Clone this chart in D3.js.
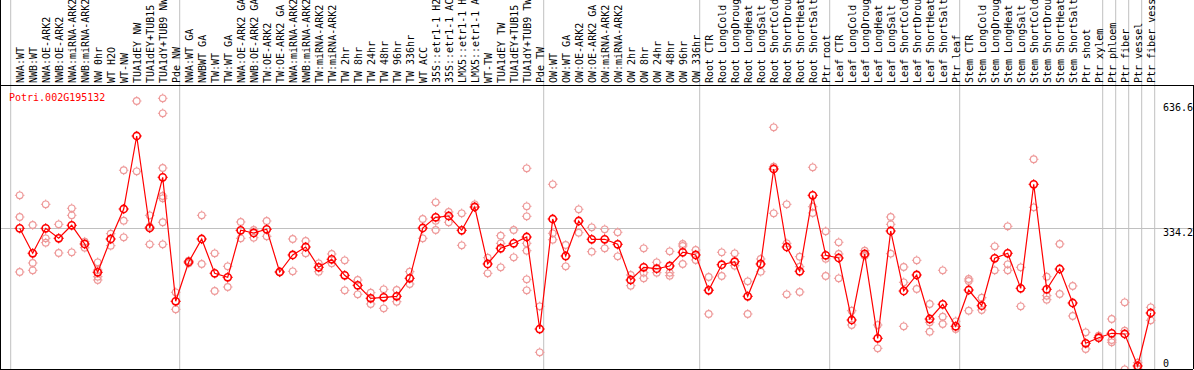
<!DOCTYPE html>
<html lang="en">
<head>
<meta charset="utf-8">
<title>Potri.002G195132</title>
<script src="https://cdn.jsdelivr.net/npm/d3@7"></script>
<style>
  body { margin: 0; background: #fff; }
  svg text { font-family: "DejaVu Sans Mono", monospace; font-size: 10px; }
</style>
</head>
<body>
<svg id="chart" width="1194" height="370"></svg>
<script>
var gene = 'Potri.002G195132';

var samples = ['NWA:WT', 'NWB:WT', 'NWA:OE-ARK2', 'NWB:OE-ARK2', 'NWA:miRNA-ARK2', 'NWB:miRNA-ARK2',
  'NW 0hr', 'WT H2O', 'WT-NW', 'TUA1dEY NW', 'TUA1dEY+TUB15', 'TUA1dY+TUB9 NW', 'Pde NW',
  'NWA:WT GA', 'NWBWT GA', 'TW:WT', 'TW:WT GA', 'NWA:OE-ARK2 GA', 'NWB:OE-ARK2 GA', 'TW:OE-ARK2',
  'TW:OE-ARK2 GA', 'NWA:miRNA-ARK2', 'NWB:miRNA-ARK2', 'TW:miRNA-ARK2', 'TW:miRNA-ARK2',
  'TW 2hr', 'TW 8hr', 'TW 24hr', 'TW 48hr', 'TW 96hr', 'TW 336hr', 'WT ACC',
  '35S::etr1-1 H2', '35S::etr1-1 AC', 'LMX5::etr1-1 H', 'LMX5::etr1-1 A', 'WT-TW', 'TUA1dEY TW',
  'TUA1dEY+TUB15', 'TUA1dY+TUB9 TW', 'Pde TW',
  'OW:WT', 'OW:WT GA', 'OW:OE-ARK2', 'OW:OE-ARK2 GA', 'OW:miRNA-ARK2', 'OW:miRNA-ARK2',
  'OW 2hr', 'OW 8hr', 'OW 24hr', 'OW 48hr', 'OW 96hr', 'OW 336hr',
  'Root CTR', 'Root LongCold', 'Root LongDroug', 'Root LongHeat', 'Root LongSalt', 'Root ShortCold',
  'Root ShortDrou', 'Root ShortHeat', 'Root ShortSalt', 'Ptr root',
  'Leaf CTR', 'Leaf LongCold', 'Leaf LongDroug', 'Leaf LongHeat', 'Leaf LongSalt', 'Leaf ShortCold',
  'Leaf ShortDrou', 'Leaf ShortHeat', 'Leaf ShortSalt', 'Ptr leaf',
  'Stem CTR', 'Stem LongCold', 'Stem LongDroug', 'Stem LongHeat', 'Stem LongSalt', 'Stem ShortCold',
  'Stem ShortDrou', 'Stem ShortHeat', 'Stem ShortSalt', 'Ptr shoot', 'Ptr xylem',
  'Ptr phloem', 'Ptr fiber', 'Ptr vessel', 'Ptr fiber vess'];

// index of first sample in each group (88 = end)
var groupStarts = [0, 13, 41, 53, 63, 73, 84, 85, 86, 87, 88];

var means = [333.5, 273.3, 333.5, 309.4, 340.7, 295.7, 227.5, 307.7, 380, 555.9, 334.2, 456.4, 157.6,
  252.3, 307.7, 225.1, 215.4, 328.7, 322.2, 331.1, 228.2, 269.2, 288.4, 239.5, 258.8,
  220.2, 196.1, 164.8, 167.2, 169.6, 213, 334.2, 360, 363.1, 328.7, 384.8, 247.5, 285.3,
  297.3, 312.5, 90.8,
  355.9, 266.7, 351.1, 307, 307, 294.9, 208.9, 239.5, 236.1, 242.7, 275.7, 269.2,
  184.1, 245.8, 253, 169.6, 247.5, 476.4, 288.4, 229.9, 413, 268.4,
  261.9, 112.5, 271.6, 68.4, 327, 182.4, 221, 114.9, 150.4, 97.3,
  184.8, 147, 261.2, 273.3, 188.9, 439.5, 186.5, 235.4, 153.5, 56.4, 69.9,
  80.5, 78.8, 1.7, 129.4];

var reps = [[413, 360.7, 228.2], [341.4, 249.9, 232.3], [391.3, 309.4, 298.8], [343.1, 274],
  [381.7, 364.8, 275.7], [301.2, 286.7], [251.6, 233, 216.9, 208.9], [320.5, 291.6],
  [473.3, 351.8, 311.8], [640.2, 470.8], [364.8, 337.3, 294.9],
  [646.7, 610.6, 478.8, 411.3, 405.8, 348, 294.9], [179.3, 138.3],
  [255.4, 249], [364.8, 247.5], [273.3, 182.4], [241.9, 192], [348.7, 309.4], [329.4, 310.8],
  [351.1, 314.2], [227.5, 229], [307.7, 229.9], [302.9, 273.3], [249.2, 228.9], [271.6, 249.2],
  [256.4, 184.1], [208.9, 174.5], [178.3, 151.1], [186.5, 140.7], [184.8, 156.6], [228.9, 199.3],
  [355.9, 309.4], [396.1, 351.8, 329.4], [372.8, 348], [369.6, 292.5], [391.3, 384.8],
  [262.7, 225.1], [315.7, 297.3, 239.5], [329.4, 263.6],
  [478.1, 386.5, 362.4, 297.3, 279.5, 210.6, 184.1], [145.5, 34.7],
  [439.5, 321.4, 306], [293.3, 241.9], [379.3, 322.9], [335.9, 277.1], [331.1, 285.3],
  [323.9, 266], [221, 195.2], [285.3, 226.5, 213], [251.6, 226.5], [278.1, 226.5, 219.3],
  [295.7, 290.8, 247.5], [281.2, 257.1],
  [216.1, 127, 184.8], [275.7, 218.6], [273.3, 243.4], [205.8, 127], [259.5, 228.9],
  [576.9, 481.9, 369.6], [391.3, 297.3, 174.5], [265.1, 241, 180], [480.5, 385.5, 370.4],
  [326.3, 260.2, 218.6],
  [299.8, 271.6, 213], [134.9, 100.5], [279.5, 267.5], [100.5, 44.3], [360.7, 343.1, 272.3],
  [240.2, 203.4, 97.3], [256.4, 187.2], [151.1, 107, 84.3], [232.3, 120.5, 102.9], [109.4, 90.8],
  [211.3, 206.5, 134.9], [166.3, 136.6], [290.1, 232.3], [338.3, 246.7, 232.3], [239.5, 145.5],
  [499.8, 384.1], [216.9, 171.1, 161.4], [295.7, 175.2], [194.5, 122.2], [82.9, 42.7],
  [74.7, 68.4], [114.9, 64.3, 58.8], [155.2, 86.7, -6.3], [9.6, -6], [143.1, 111.8]];

var yTicks = [636.6, 334.2, 0];
var gridValues = [334.2];

var W = 1194, H = 370;
var plotTop = 85, plotBottom = 369, plotRight = 1193;

var svg = d3.select('#chart');

var x = d3.scaleBand()
    .domain(d3.range(samples.length))
    .range([10.7, 10.7 + 13 * samples.length])
    .paddingInner(0);
var px = function(i) { return x(i) + 9; };

var y = d3.scaleLinear().domain([0, 636.6]).range([366.7, 102.5]);

// group separators
svg.selectAll('line.sep')
    .data(groupStarts)
    .enter().append('line')
    .attr('class', 'sep')
    .attr('x1', function(d) { return d < samples.length ? x(d) : x.range()[1]; })
    .attr('x2', function(d) { return d < samples.length ? x(d) : x.range()[1]; })
    .attr('y1', 0).attr('y2', plotBottom)
    .attr('stroke', '#c0c0c0').attr('stroke-width', 1);

// horizontal grid
svg.selectAll('line.hgrid')
    .data(gridValues)
    .enter().append('line')
    .attr('x1', 0).attr('x2', plotRight)
    .attr('y1', function(d) { return Math.round(y(d)) + 0.5; })
    .attr('y2', function(d) { return Math.round(y(d)) + 0.5; })
    .attr('stroke', '#c0c0c0');

// frame
svg.append('line').attr('x1', 0).attr('x2', W).attr('y1', plotTop + 0.5).attr('y2', plotTop + 0.5).attr('stroke', '#000');
svg.append('line').attr('x1', 0).attr('x2', plotRight).attr('y1', plotBottom + 0.5).attr('y2', plotBottom + 0.5).attr('stroke', '#000');
svg.append('line').attr('x1', 0.5).attr('x2', 0.5).attr('y1', 0).attr('y2', plotBottom).attr('stroke', '#000');
svg.append('line').attr('x1', plotRight + 0.5).attr('x2', plotRight + 0.5).attr('y1', plotTop).attr('y2', plotBottom).attr('stroke', '#000');

// sample labels
svg.append('g').selectAll('text')
    .data(samples)
    .enter().append('text')
    .attr('transform', function(d, i) { return 'translate(' + (px(i) + 4) + ',83) rotate(-90)'; })
    .attr('fill', '#000')
    .text(function(d) { return d; });

// y labels
svg.append('g').selectAll('text')
    .data(yTicks)
    .enter().append('text')
    .attr('x', 1163)
    .attr('y', function(d) { return d == 0 ? y(d) : y(d) + 8; })
    .attr('fill', '#000')
    .text(function(d) { return d; });

// gene name
svg.append('text').attr('x', 9).attr('y', 101).attr('fill', '#ff0000').text(gene);

var clip = svg.append('clipPath').attr('id', 'plotclip')
    .append('rect').attr('x', 1).attr('y', plotTop + 1).attr('width', plotRight - 1).attr('height', plotBottom - plotTop - 1);

var plot = svg.append('g').attr('clip-path', 'url(#plotclip)');

function marker(g, cx, cy, r, color, sw) {
    g.append('circle').attr('cx', cx).attr('cy', cy).attr('r', r)
        .attr('fill', 'none').attr('stroke', color).attr('stroke-width', sw);
    var t = [[0, -1], [0, 1], [-1, 0], [1, 0]];
    t.forEach(function(d) {
        g.append('line')
            .attr('x1', cx + d[0] * r).attr('y1', cy + d[1] * r)
            .attr('x2', cx + d[0] * (r + 1.5)).attr('y2', cy + d[1] * (r + 1.5))
            .attr('stroke', color).attr('stroke-width', 1);
    });
}

// replicates
var repG = plot.append('g');
reps.forEach(function(list, i) {
    list.forEach(function(v) { marker(repG, px(i), y(v), 3.3, '#ee9a9a', 1.2); });
});

// mean line
plot.append('path')
    .datum(means)
    .attr('fill', 'none').attr('stroke', '#ff0000').attr('stroke-width', 1.2)
    .attr('d', d3.line().x(function(d, i) { return px(i); }).y(function(d) { return y(d); }));

var meanG = plot.append('g');
means.forEach(function(v, i) { marker(meanG, px(i), y(v), 3.6, '#ff0000', 1.6); });
</script>
</body>
</html>
